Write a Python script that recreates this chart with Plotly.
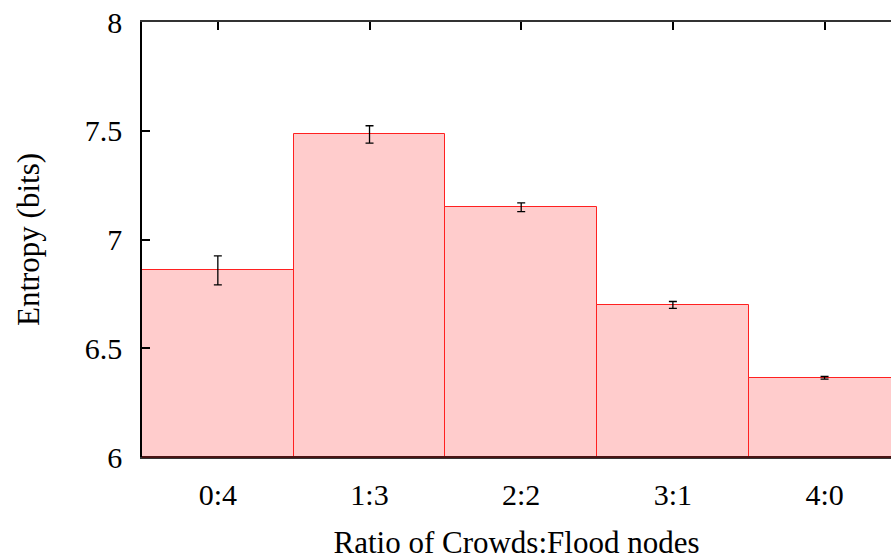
import plotly.graph_objects as go

# Entropy per node ratio, with error bars
ratios = ["0:4", "1:3", "2:2", "3:1", "4:0"]
entropy = [6.858, 7.483, 7.148, 6.699, 6.364]
entropy_err = [0.067, 0.040, 0.020, 0.016, 0.006]
y_ticks = [6, 6.5, 7, 7.5, 8]
y_tick_labels = ["6", "6.5", "7", "7.5", "8"]

positions = list(range(len(ratios)))

font = dict(family="Liberation Serif, Times New Roman, serif", size=30, color="black")

fig = go.Figure(
    go.Bar(
        x=positions,
        y=[v - 6 for v in entropy],
        base=6,
        width=1,
        marker=dict(color="#ffcccc", line=dict(color="#ff2020", width=1)),
        error_y=dict(type="data", array=entropy_err, color="black", thickness=1.3, width=4),
    )
)

fig.update_layout(
    width=891,
    height=560,
    margin=dict(l=142, r=0, t=22, b=103),
    plot_bgcolor="white",
    paper_bgcolor="white",
    font=font,
    showlegend=False,
    bargap=0,
    shapes=[
        # dark baseline drawn over the bar outlines
        dict(type="line", xref="paper", yref="paper", x0=0, x1=1, y0=0, y1=0,
             line=dict(color="#4a1414", width=2), layer="above"),
    ],
)

fig.update_xaxes(
    range=[-0.5, 4.438],
    tickvals=positions,
    ticktext=ratios,
    ticks="inside",
    ticklen=8,
    tickwidth=1.5,
    tickcolor="black",
    showline=True,
    linecolor="#333333",
    linewidth=2,
    mirror="ticks",
    showgrid=False,
    zeroline=False,
    layer="below traces",
    ticklabelstandoff=10,
    title=dict(text="Ratio of Crowds:Flood nodes", standoff=27, font=dict(size=31)),
)

fig.update_yaxes(
    range=[6, 8],
    tickvals=y_ticks,
    ticktext=y_tick_labels,
    ticks="inside",
    ticklen=8,
    tickwidth=1.5,
    tickcolor="black",
    showline=True,
    linecolor="black",
    linewidth=1.5,
    showgrid=False,
    zeroline=False,
    ticklabelstandoff=12,
    title=dict(text="Entropy (bits)", standoff=36, font=dict(size=31)),
)

fig.write_html("out.html")
